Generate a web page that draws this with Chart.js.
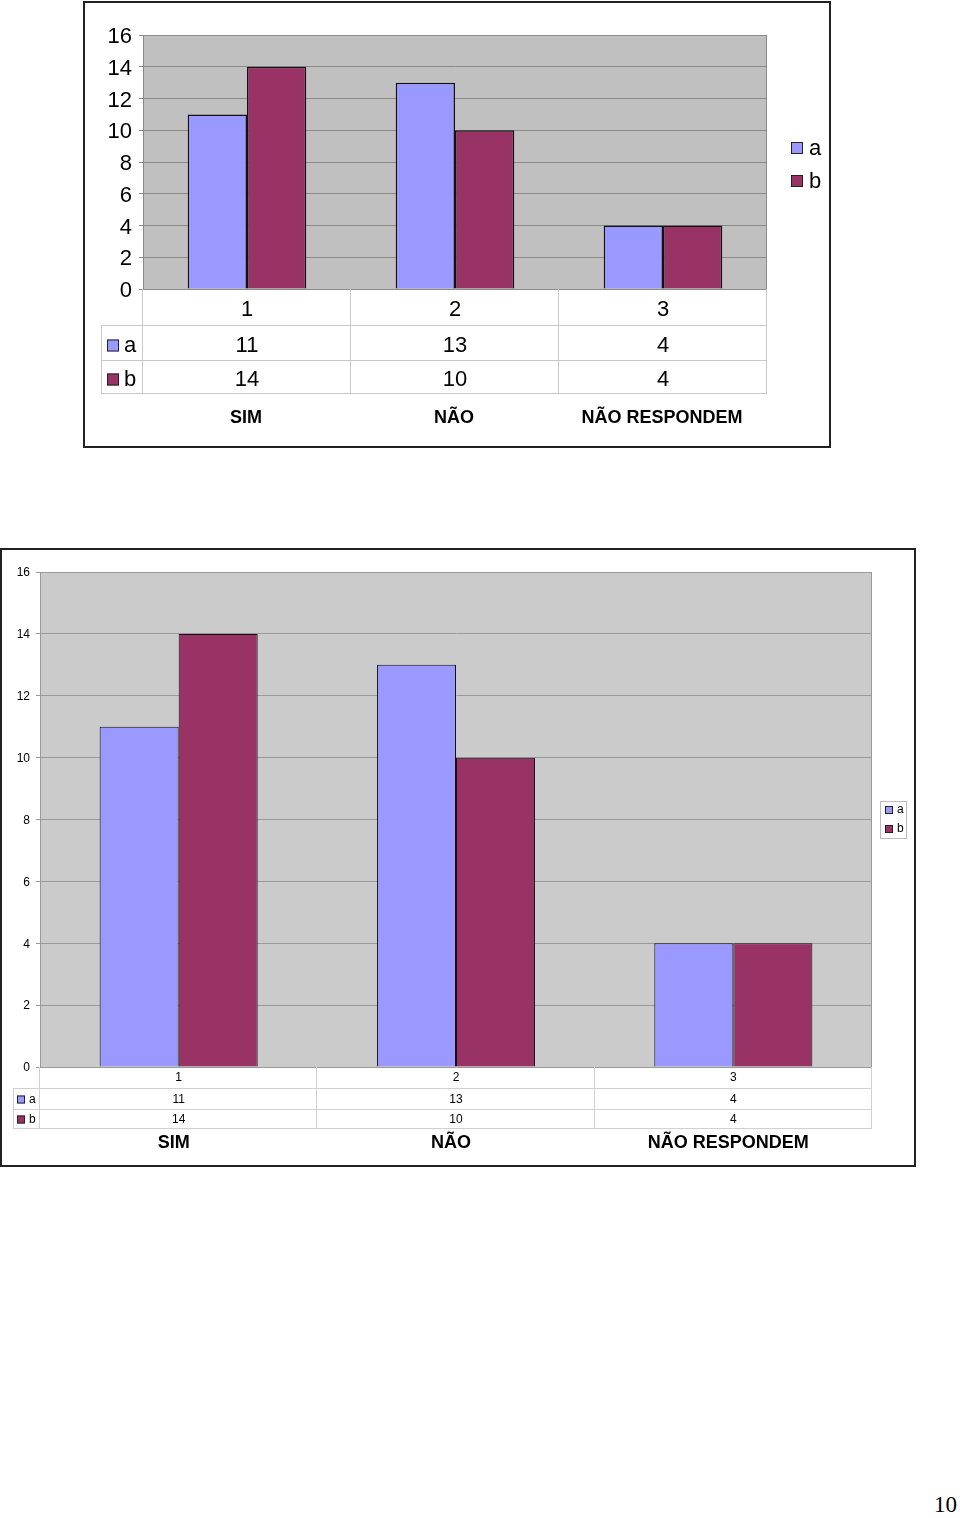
<!DOCTYPE html>
<html>
<head>
<meta charset="utf-8">
<script src="https://cdn.jsdelivr.net/npm/chart.js@4/dist/chart.umd.min.js"></script>
<style>
  body { margin: 0; background: #fff; width: 960px; height: 1518px; position: relative; overflow: hidden; }
  .box { position: absolute; }
  #page { position: absolute; left: 934px; top: 1492px; font-family: "Liberation Serif", "DejaVu Serif", serif; font-size: 23px; color: #000; }
</style>
</head>
<body>
<div class="box" style="left:83px;top:1px;width:749px;height:448px"><canvas id="chart1" width="749" height="448"></canvas></div>
<div class="box" style="left:0;top:548px;width:917px;height:620px"><canvas id="chart2" width="917" height="620"></canvas></div>
<div id="page">10</div>
<script>
// dados
const categories = ['1', '2', '3'];
const groupNames = ['SIM', 'NÃO', 'NÃO RESPONDEM'];
const seriesNames = ['a', 'b'];
const valuesA = [11, 13, 4];
const valuesB = [14, 10, 4];
const yTickValues = [0, 2, 4, 6, 8, 10, 12, 14, 16];
const seriesColors = ['#9999ff', '#993366'];

const FONT = '"Liberation Sans", Arial, sans-serif';

// desenha fundo, tabela de dados, legenda e moldura
const excelPlugin = {
    id: 'excel',
    beforeDraw(chart, args, o) {
        const a = chart.chartArea, ctx = chart.ctx;
        ctx.save();
        ctx.fillStyle = o.plotBg;
        ctx.fillRect(a.left, a.top, a.right - a.left, a.bottom - a.top);
        ctx.restore();
    },
    afterDraw(chart, args, o) {
        const a = chart.chartArea, ctx = chart.ctx, x = chart.scales.x;
        const ds = chart.data.datasets;
        ctx.save();

        // borda do gráfico (topo e direita)
        ctx.strokeStyle = o.gridColor;
        ctx.lineWidth = 1;
        ctx.beginPath();
        ctx.moveTo(a.left, a.top + 0.5); ctx.lineTo(a.right - 0.5, a.top + 0.5);
        ctx.lineTo(a.right - 0.5, a.bottom);
        ctx.stroke();

        // linhas da tabela
        const rows = o.rowBottoms;
        const bottom = rows[rows.length - 1];
        ctx.strokeStyle = o.tableColor;
        ctx.beginPath();
        rows.forEach(y => {
            ctx.moveTo(o.keyLeft, y + 0.5); ctx.lineTo(a.right, y + 0.5);
        });
        ctx.moveTo(o.keyLeft + 0.5, rows[0]); ctx.lineTo(o.keyLeft + 0.5, bottom);
        for (let j = 0; j <= categories.length; j++) {
            const px = Math.round(x.getPixelForValue(j - 0.5)) - 0.5;
            ctx.moveTo(px, a.bottom); ctx.lineTo(px, bottom);
        }
        ctx.stroke();

        // valores das séries
        ctx.fillStyle = '#000';
        ctx.textAlign = 'center';
        ctx.textBaseline = 'middle';
        ctx.font = o.fontSize + 'px ' + FONT;
        ds.forEach((d, i) => {
            const yc = (rows[i] + rows[i + 1]) / 2 + o.textShift;
            d.data.forEach((v, j) => {
                ctx.fillText(String(v), x.getPixelForValue(j), yc);
            });
            // chave
            const sy = yc - o.keySize / 2;
            ctx.fillStyle = d.backgroundColor;
            ctx.fillRect(o.keyLeft + o.keyPad, sy, o.keySize, o.keySize);
            ctx.strokeStyle = '#222';
            ctx.strokeRect(o.keyLeft + o.keyPad + 0.5, sy + 0.5, o.keySize - 1, o.keySize - 1);
            ctx.fillStyle = '#000';
            ctx.textAlign = 'left';
            ctx.fillText(d.label, o.keyLeft + o.keyPad + o.keySize + o.keyGap, yc);
            ctx.textAlign = 'center';
        });

        // nomes das categorias
        ctx.font = 'bold 18px ' + FONT;
        groupNames.forEach((n, j) => ctx.fillText(n, x.getPixelForValue(j) + o.namesDx, o.namesY));

        // legenda
        const L = o.legend;
        if (L.box) {
            ctx.strokeStyle = '#bbb';
            ctx.strokeRect(L.box[0] + 0.5, L.box[1] + 0.5, L.box[2], L.box[3]);
        }
        ctx.font = L.fontSize + 'px ' + FONT;
        ctx.textAlign = 'left';
        ds.forEach((d, i) => {
            const yc = L.ys[i];
            ctx.fillStyle = d.backgroundColor;
            ctx.fillRect(L.x, yc - L.size / 2, L.size, L.size);
            ctx.strokeStyle = '#222';
            ctx.strokeRect(L.x + 0.5, yc - L.size / 2 + 0.5, L.size - 1, L.size - 1);
            ctx.fillStyle = '#000';
            ctx.fillText(d.label, L.x + L.size + L.gap, yc + L.shift);
        });

        // moldura
        ctx.strokeStyle = '#222';
        ctx.lineWidth = 2;
        ctx.strokeRect(o.frame[0], o.frame[1], o.frame[2], o.frame[3]);
        ctx.restore();
    }
};

function makeChart(id, s) {
    const ctx = document.getElementById(id).getContext('2d');
    return new Chart(ctx, {
        type: 'bar',
        data: {
            labels: categories,
            datasets: [
                { label: seriesNames[0], data: valuesA, backgroundColor: seriesColors[0], borderColor: '#111', borderWidth: s.barBorder },
                { label: seriesNames[1], data: valuesB, backgroundColor: seriesColors[1], borderColor: '#111', borderWidth: s.barBorder }
            ]
        },
        options: {
            responsive: false,
            animation: false,
            events: [],
            layout: { padding: s.padding },
            datasets: { bar: { categoryPercentage: 0.57, barPercentage: 1 } },
            plugins: {
                legend: { display: false },
                tooltip: { enabled: false },
                excel: s.table
            },
            scales: {
                x: {
                    grid: { display: false, drawTicks: false },
                    border: { display: false },
                    ticks: { color: '#000', font: { family: FONT, size: s.fontSize }, padding: s.xPad },
                    afterFit(scale) { scale.height = s.xHeight; }
                },
                y: {
                    min: 0, max: 16,
                    afterBuildTicks(scale) { scale.ticks = yTickValues.map(v => ({ value: v })); },
                    grid: { color: s.table.gridColor, tickLength: s.tickLen, tickColor: s.table.gridColor },
                    border: { color: s.table.gridColor },
                    ticks: { color: '#000', font: { family: FONT, size: s.fontSize }, padding: s.yPad, labelOffset: s.yLabelOffset },
                    afterFit(scale) { scale.width = s.yWidth; }
                }
            }
        },
        plugins: [excelPlugin]
    });
}

makeChart('chart1', {
    padding: { left: 0, right: 65, top: 34, bottom: 124 },
    fontSize: 22, xPad: 8, xHeight: 36, yWidth: 60, yPad: 7, tickLen: 4, barBorder: 1.5, yLabelOffset: 2,
    table: {
        plotBg: '#c0c0c0', gridColor: '#8a8a8a', tableColor: '#c8c8c8',
        rowBottoms: [324, 359, 392], keyLeft: 18, keyPad: 6, keySize: 12, keyGap: 5,
        fontSize: 22, textShift: 3, namesY: 417, namesDx: -1,
        legend: { x: 708, ys: [147, 180], size: 12, gap: 6, fontSize: 22, shift: 1 },
        frame: [1, 1, 746, 445]
    }
});

makeChart('chart2', {
    padding: { left: 0, right: 45, top: 24, bottom: 80 },
    fontSize: 12, xPad: 3, xHeight: 21, yWidth: 40, yPad: 6, tickLen: 4, barBorder: 1, yLabelOffset: 1,
    table: {
        plotBg: '#cbcbcb', gridColor: '#9a9a9a', tableColor: '#d0d0d0',
        rowBottoms: [540, 561, 580], keyLeft: 13, keyPad: 4, keySize: 8, keyGap: 4,
        fontSize: 12, textShift: 1, namesY: 595, namesDx: -5,
        legend: { x: 885, ys: [262, 281], size: 8, gap: 4, fontSize: 12, shift: 0, box: [880, 253, 26, 37] },
        frame: [1, 1, 914, 617]
    }
});
</script>
</body>
</html>
